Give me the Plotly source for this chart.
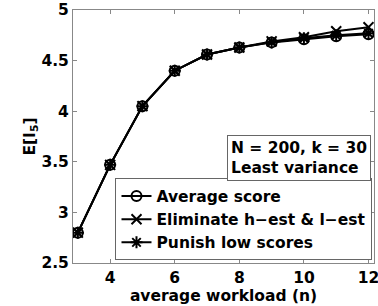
import plotly.graph_objects as go

workload = [3, 4, 5, 6, 7, 8, 9, 10, 11, 12]
avg_score = [2.80, 3.47, 4.05, 4.40, 4.56, 4.63, 4.68, 4.71, 4.74, 4.76]
eliminate = [2.80, 3.47, 4.05, 4.40, 4.56, 4.63, 4.69, 4.73, 4.79, 4.83]
punish = [2.80, 3.47, 4.05, 4.40, 4.56, 4.63, 4.68, 4.72, 4.75, 4.77]

names = ["Average score", "Eliminate h\u2212est & l\u2212est", "Punish low scores"]
symbols = ["circle-open", "x-thin-open", "asterisk-open"]

FAM = "DejaVu Sans"
SZ = 15.5

def f(size=SZ):
    return dict(family=FAM, size=size, color="black", weight="bold")

fig = go.Figure()
for ys, name, sym in zip([avg_score, eliminate, punish], names, symbols):
    fig.add_trace(go.Scatter(
        x=workload, y=ys, name=name, mode="lines+markers",
        line=dict(color="black", width=2),
        marker=dict(symbol=sym, size=10, color="black",
                    line=dict(color="black", width=2)),
    ))

fig.update_layout(
    width=378, height=306,
    margin=dict(l=73, r=4, t=10, b=43, autoexpand=False),
    paper_bgcolor="white", plot_bgcolor="white",
    font=f(),
    showlegend=True,
    legend=dict(x=0.995, y=0.01, xanchor="right", yanchor="bottom",
                bordercolor="#666", borderwidth=1, bgcolor="white",
                font=f(), tracegroupgap=0, itemwidth=30),
    xaxis=dict(range=[2.85, 12.17], tickvals=[4, 6, 8, 10, 12],
               ticks="inside", ticklen=4, tickcolor="#888", mirror="ticks", showline=True,
               linecolor="#888", linewidth=1, showgrid=False, zeroline=False,
               tickfont=f(), ticklabeloverflow="allow",
               title=dict(text="average workload (n)", standoff=0, font=f())),
    yaxis=dict(range=[2.5, 5], tickvals=[2.5, 3, 3.5, 4, 4.5, 5],
               ticktext=["2.5", "3", "3.5", "4", "4.5", "5"],
               ticks="inside", ticklen=4, tickcolor="#888", mirror="ticks", showline=True,
               linecolor="#888", linewidth=1, showgrid=False, zeroline=False,
               tickfont=f(), ticklabeloverflow="allow",
               title=dict(text="E[I<sub>5</sub>]", standoff=0, font=f())),
)
fig.add_annotation(
    xref="paper", yref="paper", x=0.99, y=0.505, xanchor="right", yanchor="top",
    text="N = 200, k = 30<br>Least variance", align="left", showarrow=False,
    bordercolor="#666", borderwidth=1, borderpad=3, bgcolor="white",
    font=f(),
)
fig.write_html("out.html", config={"displayModeBar": False})

with open("out.html", "r", encoding="utf-8") as fh:
    html = fh.read()
html = html.replace("<head>", "<head><style>html,body{margin:0;padding:0;overflow:hidden}</style>", 1)
with open("out.html", "w", encoding="utf-8") as fh:
    fh.write(html)
